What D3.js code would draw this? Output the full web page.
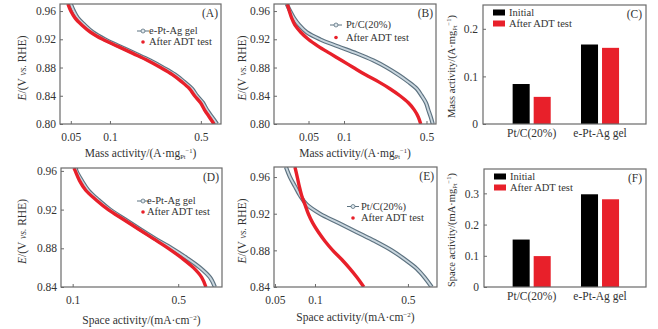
<!DOCTYPE html>
<html><head><meta charset="utf-8">
<script src="https://cdn.jsdelivr.net/npm/d3@7"></script>
<style>body{margin:0;background:#fff}svg{display:block}</style>
</head><body>
<svg id="c" width="658" height="329"></svg>
<script>
// ---------- DATA ----------
const potAB = [0.97,0.96,0.95,0.94,0.93,0.92,0.91,0.90,0.89,0.88,0.87,0.86,0.85,0.84,0.83,0.82,0.81,0.80];
const massA_ePtAg  = [0.050,0.0528,0.0567,0.0642,0.074,0.0915,0.119,0.156,0.203,0.256,0.316,0.371,0.427,0.467,0.519,0.557,0.609,0.665];
const massA_after  = [0.0475,0.050,0.054,0.061,0.071,0.088,0.115,0.150,0.195,0.245,0.302,0.355,0.408,0.447,0.497,0.533,0.580,0.630];
const massB_PtC    = [0.0327,0.0349,0.0377,0.0418,0.0483,0.0626,0.0889,0.128,0.177,0.230,0.287,0.349,0.413,0.455,0.495,0.518,0.543,0.565];
const massB_after  = [0.0331,0.0344,0.0360,0.0384,0.0430,0.0498,0.0606,0.0760,0.0957,0.120,0.151,0.195,0.245,0.298,0.351,0.394,0.426,0.447];
const potD = [0.963,0.96,0.95,0.94,0.93,0.92,0.91,0.90,0.89,0.88,0.87,0.86,0.85,0.84];
const spaceD_ePtAg = [0.105,0.106,0.115,0.127,0.148,0.177,0.222,0.279,0.351,0.453,0.569,0.697,0.811,0.875];
const spaceD_after = [0.102,0.104,0.111,0.122,0.143,0.172,0.216,0.272,0.342,0.430,0.527,0.630,0.715,0.763];
const potE = [0.971,0.96,0.95,0.94,0.93,0.92,0.91,0.90,0.89,0.88,0.87,0.86,0.85,0.84];
const spaceE_PtC   = [0.0605,0.0649,0.0707,0.0771,0.0867,0.109,0.150,0.206,0.283,0.377,0.475,0.582,0.671,0.754];
const spaceE_after = [0.0707,0.0736,0.0762,0.0794,0.0841,0.0891,0.0961,0.106,0.119,0.136,0.159,0.183,0.208,0.233];
const catalysts = ["Pt/C(20%)","e-Pt-Ag gel"];
const states = ["Initial","After ADT test"];
const massInitial = [0.084,0.167];
const massAfter   = [0.057,0.160];
const spaceInitial = [0.152,0.297];
const spaceAfter   = [0.099,0.281];
const ticksA_x = [0.05,0.1,0.5];
const ticksB_x = [0.05,0.1,0.5];
const ticksD_x = [0.1,0.5];
const ticksE_x = [0.05,0.1,0.5];
const ticksAB_y = [0.80,0.84,0.88,0.92,0.96];
const ticksDE_y = [0.84,0.88,0.92,0.96];
const ticksC_y = [0,0.1,0.2];
const ticksF_y = [0,0.1,0.2,0.3];

// ---------- DRAW ----------
const FONT = '"Liberation Serif","Times New Roman","DejaVu Serif",serif';
const svg = d3.select("#c");
const FRAME="#6a6a6a", GRAYD="#5d7280", GRAYL="#c9d6de", RED="#e8202a", TXT="#333";
const FS=11.5, LFS=10.5;
let clipN=0;

function yTitleE(g, x, y){
  const t=g.append("text").attr("transform",`translate(${x},${y}) rotate(-90)`).attr("text-anchor","middle").attr("font-size",FS);
  t.append("tspan").attr("font-style","italic").text("E");
  t.append("tspan").text("/(V ");
  t.append("tspan").attr("font-style","italic").attr("font-size",9.5).text("vs.");
  t.append("tspan").text(" RHE)");
}
function mgPt(t){
  t.append("tspan").attr("font-size",6.5).attr("dy",2).text("Pt");
  t.append("tspan").attr("font-size",6.5).attr("dy",-6).text("−1");
  t.append("tspan").attr("dy",4).text(")");
}
function massTitle(t){ t.append("tspan").text("Mass activity/(A·mg"); mgPt(t); }
function spaceTitle(t){
  t.append("tspan").text("Space activity/(mA·cm");
  t.append("tspan").attr("font-size",7).attr("dy",-4).text("−2");
  t.append("tspan").attr("dy",4).text(")");
}
function styleTicks(sel){
  sel.selectAll("text").attr("font-size",FS).style("font-family",FONT).attr("fill",TXT);
  sel.selectAll("line").attr("stroke",FRAME);
  sel.select(".domain").remove();
}

function linePanel(p){
  const g=svg.append("g");
  const x=d3.scaleLog().domain(p.xd).range([p.x0,p.x1]);
  const y=d3.scaleLinear().domain(p.yd).range([p.y1,p.y0]);
  const id="clip"+(clipN++);
  g.append("clipPath").attr("id",id).append("rect").attr("x",p.x0).attr("y",p.y0).attr("width",p.x1-p.x0).attr("height",p.y1-p.y0);
  const line=d3.line().x(d=>x(d[1])).y(d=>y(d[0])).curve(d3.curveCatmullRom);
  const gd=p.E.map((e,i)=>[e,p.s1[i]]), rd=p.E.map((e,i)=>[e,p.s2[i]]);
  const cg=g.append("g").attr("clip-path",`url(#${id})`);
  cg.append("path").attr("d",line(gd)).attr("fill","none").attr("stroke",GRAYD).attr("stroke-width",4.2);
  cg.append("path").attr("d",line(gd)).attr("fill","none").attr("stroke",GRAYL).attr("stroke-width",1.9);
  cg.append("path").attr("d",line(rd)).attr("fill","none").attr("stroke",RED).attr("stroke-width",3.4);
  const ax=g.append("g").attr("transform",`translate(0,${p.y1})`).call(d3.axisTop(x).tickValues(p.xt).tickFormat(d3.format("")).tickSize(3));
  styleTicks(ax);
  ax.selectAll("text").attr("y",16.5).attr("dy",0);
  const ay=g.append("g").attr("transform",`translate(${p.x0},0)`).call(d3.axisRight(y).tickValues(p.yt).tickFormat(d3.format(".2f")).tickSize(3));
  styleTicks(ay);
  ay.selectAll("text").attr("x",-4).attr("text-anchor","end");
  g.append("rect").attr("x",p.x0).attr("y",p.y0).attr("width",p.x1-p.x0).attr("height",p.y1-p.y0).attr("fill","none").attr("stroke",FRAME).attr("stroke-width",1.2);
  const L=p.leg;
  g.append("line").attr("x1",L.x-6).attr("x2",L.x+6).attr("y1",L.y1).attr("y2",L.y1).attr("stroke",GRAYD).attr("stroke-width",1);
  g.append("circle").attr("cx",L.x).attr("cy",L.y1).attr("r",2).attr("fill","#dfe8ee").attr("stroke",GRAYD).attr("stroke-width",0.8);
  g.append("text").attr("x",L.tx).attr("y",L.y1+3).attr("font-size",LFS).text(p.n1);
  g.append("circle").attr("cx",L.x).attr("cy",L.y2).attr("r",1.8).attr("fill",RED);
  g.append("text").attr("x",L.tx).attr("y",L.y2+3).attr("font-size",LFS).text("After ADT test");
  g.append("text").attr("x",p.x1-3).attr("y",p.y0+13).attr("text-anchor","end").attr("font-size",FS).text(p.lab);
  yTitleE(g,p.ytx,(p.y0+p.y1)/2+4);
  const t=g.append("text").attr("x",(p.x0+p.x1)/2).attr("y",p.xty).attr("text-anchor","middle").attr("font-size",FS);
  p.title(t);
}

function barPanel(p){
  const g=svg.append("g");
  const xo=d3.scaleBand().domain(catalysts).range([p.bx0,p.bx1]);
  const xi=d3.scaleBand().domain(states).range([0,xo.bandwidth()]).paddingInner(0.19).paddingOuter(0.72);
  const y=d3.scaleLinear().domain(p.yd).range([p.y1,p.y0]);
  catalysts.forEach((c,i)=>{
    [p.v1[i],p.v2[i]].forEach((v,j)=>{
      g.append("rect").attr("x",xo(c)+xi(states[j])).attr("y",y(v)).attr("width",xi.bandwidth()).attr("height",y(0)-y(v)).attr("fill",j===0?"#000":RED);
    });
  });
  const ay=g.append("g").attr("transform",`translate(${p.x0},0)`).call(d3.axisRight(y).tickValues(p.yt).tickFormat(d=>d===0?"0":d3.format(".1f")(d)).tickSize(3));
  styleTicks(ay);
  ay.selectAll("text").attr("x",-5).attr("text-anchor","end");
  const ax=g.append("g").attr("transform",`translate(0,${p.y1})`).call(d3.axisBottom(xo).tickSize(0));
  styleTicks(ax);
  ax.selectAll("text").attr("y",13).attr("dy",0);
  g.append("rect").attr("x",p.x0).attr("y",p.y0).attr("width",p.x1-p.x0).attr("height",p.y1-p.y0).attr("fill","none").attr("stroke",FRAME).attr("stroke-width",1.2);
  states.forEach((s,j)=>{
    g.append("rect").attr("x",p.x0+10).attr("y",p.y0+4.5+j*11).attr("width",12).attr("height",6).attr("fill",j===0?"#000":RED);
    g.append("text").attr("x",p.x0+26).attr("y",p.y0+11+j*11).attr("font-size",LFS).text(s);
  });
  g.append("text").attr("x",p.x1-4).attr("y",p.y0+12.5).attr("text-anchor","end").attr("font-size",FS).text(p.lab);
  const t=g.append("text").attr("transform",`translate(${p.ytx},${(p.y0+p.y1)/2+2}) rotate(-90)`).attr("text-anchor","middle").attr("font-size",10.5);
  t.append("tspan").text(p.ytitle+"·mg");
  mgPt(t);
}

linePanel({x0:60,x1:221,y0:4,y1:124,xd:[0.0413,0.714],yd:[0.80,0.97],xt:ticksA_x,yt:ticksAB_y,E:potAB,s1:massA_ePtAg,s2:massA_after,
  n1:"e-Pt-Ag gel",lab:"(A)",leg:{x:143,tx:149,y1:31,y2:42},ytx:26,xty:157,title:massTitle});
linePanel({x0:274,x1:436,y0:4,y1:124,xd:[0.0255,0.602],yd:[0.80,0.97],xt:ticksB_x,yt:ticksAB_y,E:potAB,s1:massB_PtC,s2:massB_after,
  n1:"Pt/C(20%)",lab:"(B)",leg:{x:336,tx:346,y1:25,y2:37.5},ytx:246,xty:157,title:massTitle});
linePanel({x0:61,x1:222,y0:168,y1:287,xd:[0.0837,0.975],yd:[0.84,0.963],xt:ticksD_x,yt:ticksDE_y,E:potD,s1:spaceD_ePtAg,s2:spaceD_after,
  n1:"e-Pt-Ag gel",lab:"(D)",leg:{x:143,tx:147,y1:201,y2:212},ytx:26,xty:324,title:spaceTitle});
linePanel({x0:274,x1:437,y0:167,y1:287,xd:[0.0492,0.827],yd:[0.84,0.971],xt:ticksE_x,yt:ticksDE_y,E:potE,s1:spaceE_PtC,s2:spaceE_after,
  n1:"Pt/C(20%)",lab:"(E)",leg:{x:353,tx:361,y1:206.5,y2:218},ytx:246,xty:321,title:spaceTitle});
barPanel({x0:483,x1:646,y0:5,y1:124,bx0:497.5,bx1:634.2,yd:[0,0.25],yt:ticksC_y,v1:massInitial,v2:massAfter,lab:"(C)",ytx:455,ytitle:"Mass activity/(A"});
barPanel({x0:484,x1:646,y0:169,y1:287,bx0:497.5,bx1:634.2,yd:[0,0.378],yt:ticksF_y,v1:spaceInitial,v2:spaceAfter,lab:"(F)",ytx:455,ytitle:"Space activity/(mA"});

svg.selectAll("text").style("font-family",FONT).attr("fill",TXT);
</script>
</body></html>
